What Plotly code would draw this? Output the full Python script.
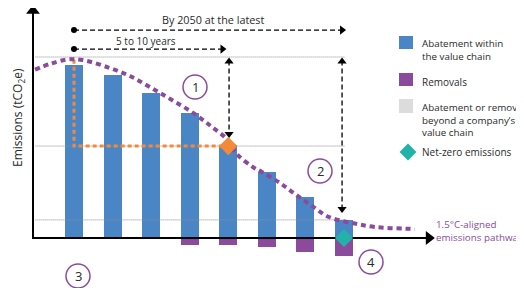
import plotly.graph_objects as go

# ---- data ----
periods = [1, 2, 3, 4, 5, 6, 7, 8]
abatement = [95.6, 90.0, 80.0, 69.0, 51.4, 36.5, 22.7, 10.0]
removals = [0, 0, 0, -3.9, -3.9, -5.0, -7.7, -10.0]
pathway_x = [-0.01, 0.38, 0.82, 1.23, 1.93, 2.45, 2.97, 3.54, 4.09, 4.58, 4.97,
             5.22, 5.64, 5.87, 6.34, 6.73, 7.17, 7.61, 8.21, 8.8, 9.84]
pathway_y = [93.0, 96.2, 98.6, 98.3, 93.9, 89.5, 83.4, 76.2, 69.1, 61.3, 54.5,
             46.4, 39.2, 36.5, 30.4, 24.3, 17.7, 11.6, 8.3, 6.1, 5.0]
start_level = 100.0
interim_level = 50.8
residual_level = 10.0
interim_period = 5
netzero_period = 8

BLUE = "#4a86c6"
PURPLE = "#8b4a9c"
ORANGE = "#f28a3a"
TEAL = "#21b2aa"
GRAY = "#dcdcdc"
FONT = "Open Sans"

W, H = 524, 288
OFF = 8  # page body margin
X0PX, XSTEP = 35.43, 38.57
Y0PX, YSTEP = 238.0, 1.81
XR = [(OFF - X0PX) / XSTEP, (OFF + W - X0PX) / XSTEP]
YR = [(Y0PX - OFF - H) / YSTEP, (Y0PX - OFF) / YSTEP]

fig = go.Figure()

fig.add_trace(go.Bar(x=periods, y=abatement, width=0.467, marker=dict(color=BLUE, line=dict(width=0)),
                     showlegend=False, hoverinfo="skip"))
fig.add_trace(go.Bar(x=periods, y=removals, width=0.467, marker=dict(color=PURPLE, line=dict(width=0)),
                     showlegend=False, hoverinfo="skip"))

for lvl in [start_level, interim_level, residual_level]:
    fig.add_trace(go.Scatter(x=[0, 8.03], y=[lvl, lvl], mode="lines",
                             line=dict(color="#8c8c8c", width=1, dash="1px,1px"),
                             showlegend=False, hoverinfo="skip"))

fig.add_trace(go.Scatter(x=[1, 1, interim_period], y=[98.5, interim_level, interim_level], mode="lines",
                         line=dict(color=ORANGE, width=3, dash="4px,3px"),
                         showlegend=False, hoverinfo="skip"))

fig.add_trace(go.Scatter(x=pathway_x, y=pathway_y, mode="lines", line_shape="spline",
                         line=dict(color=PURPLE, width=4, dash="5px,4px"),
                         showlegend=False, hoverinfo="skip"))

def dashed(xs, ys):
    fig.add_trace(go.Scatter(x=xs, y=ys, mode="lines",
                             line=dict(color="black", width=1.3, dash="5px,3px"),
                             showlegend=False, hoverinfo="skip"))

def marker(x, y, sym, size, color="black"):
    fig.add_trace(go.Scatter(x=[x], y=[y], mode="markers",
                             marker=dict(symbol=sym, size=size, color=color, line=dict(width=0)),
                             showlegend=False, hoverinfo="skip"))

y_2050 = 114.9
y_510 = 104.4
dashed([1, 7.95], [y_2050, y_2050])
marker(1, y_2050, "circle", 6)
marker(7.95, y_2050, "triangle-right", 8)
dashed([1, 4.85], [y_510, y_510])
marker(1, y_510, "circle", 6)
marker(4.85, y_510, "triangle-right", 8)

dashed([5.02, 5.02], [98, 58])
marker(5.02, 97.5, "triangle-up", 8)
marker(5.02, 57.5, "triangle-down", 8)
dashed([7.95, 7.95], [98, 16])
marker(7.95, 97.5, "triangle-up", 8)
marker(7.95, 16, "triangle-down", 8)

fig.add_trace(go.Scatter(x=[-0.063, -0.063, 10.15], y=[127, 0, 0], mode="lines",
                         line=dict(color="black", width=2), showlegend=False, hoverinfo="skip"))
marker(-0.063, 125.5, "triangle-up", 12)
marker(10.2, 0, "triangle-right", 12)

marker(interim_period, interim_level, "diamond", 14, ORANGE)
marker(netzero_period, 0, "diamond", 14, TEAL)

def px(x):
    return (x - OFF) / W

def py(y):
    return 1 - (y - OFF) / H

ann = []
def text(x, y, t, size=10, color="#2a2a2a", xanchor="left", **kw):
    ann.append(dict(x=px(x), y=py(y), xref="paper", yref="paper", text=t, showarrow=False,
                    xanchor=xanchor, yanchor="middle", align="left",
                    font=dict(family=FONT, size=size, color=color), **kw))

text(213, 20, "By 2050 at the latest", size=10.8, xanchor="center")
text(146, 41, "5 to 10 years", xanchor="center")
text(18, 118, "Emissions (tCO<sub>2</sub>e)", size=12, xanchor="center", textangle=-90)
text(434, 230.5, "1.5°C-aligned<br>emissions pathway", color=PURPLE, size=9.8)

text(420, 49.5, "Abatement within<br>the value chain", size=9.8)
text(420, 82, "Removals")
text(420, 119.5, "Abatement or removals<br>beyond a company’s<br>value chain", size=9.8)
text(420, 152, "Net-zero emissions")

shapes = []
for (y0, y1, c) in [(36, 49, BLUE), (73, 86, PURPLE), (99, 113, GRAY)]:
    shapes.append(dict(type="rect", xref="paper", yref="paper", x0=px(399), x1=px(413),
                       y0=py(y1), y1=py(y0), fillcolor=c, line=dict(width=0)))

for (cx, cy, n) in [(195, 87, "1"), (320, 171, "2"), (78, 276, "3"), (371, 262, "4")]:
    r = 12
    shapes.append(dict(type="circle", xref="paper", yref="paper", x0=px(cx - r), x1=px(cx + r),
                       y0=py(cy + r), y1=py(cy - r), line=dict(color=PURPLE, width=1.5),
                       fillcolor="rgba(0,0,0,0)"))
    text(cx, cy, n, size=13, xanchor="center")

fig.add_trace(go.Scatter(x=[(408 - X0PX) / XSTEP], y=[(Y0PX - 152) / YSTEP],
                         mode="markers", marker=dict(symbol="diamond", size=13, color=TEAL),
                         showlegend=False, hoverinfo="skip"))

fig.update_layout(
    width=W, height=H, margin=dict(l=0, r=0, t=0, b=0),
    paper_bgcolor="white", plot_bgcolor="white",
    barmode="overlay", bargap=0,
    xaxis=dict(range=XR, visible=False, fixedrange=True),
    yaxis=dict(range=YR, visible=False, fixedrange=True),
    annotations=ann, shapes=shapes, showlegend=False,
)

fig.write_html("out.html")
